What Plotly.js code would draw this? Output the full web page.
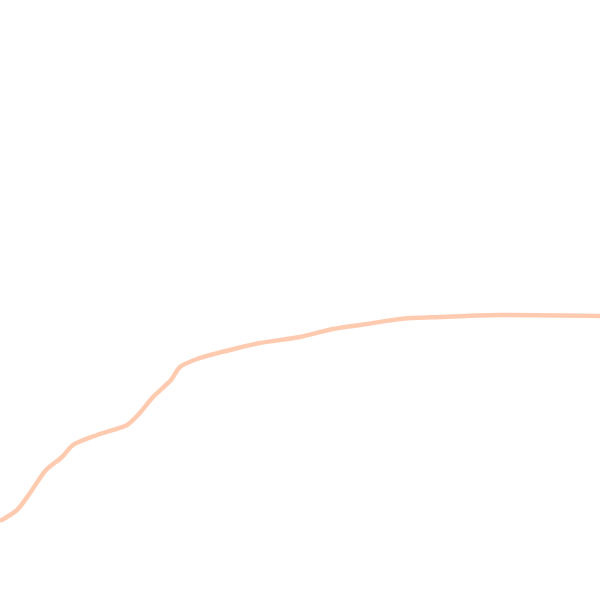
<!DOCTYPE html>
<html>
<head>
<meta charset="utf-8">
<script src="https://cdn.plot.ly/plotly-3.0.1.min.js"></script>
<style>
  html, body { margin: 0; padding: 0; background: #fff; }
  #chart { width: 600px; height: 600px; }
</style>
</head>
<body>
<div id="chart"></div>
<script>
// curve values (x, height above bottom)
const xs = [0, 17, 30, 46, 62, 73, 97, 127, 138, 153, 171, 180, 197, 230, 260, 300, 333, 367, 400, 440, 500, 600];
const ys = [79, 90, 107, 130, 143, 155, 165, 175, 185, 203, 220, 233, 241, 250, 257, 263, 271, 276, 281, 283, 285, 284];

const trace = {
  x: xs,
  y: ys,
  type: "scatter",
  mode: "lines",
  line: { color: "rgb(255,203,176)", width: 4.5, shape: "spline", smoothing: 0.8 },
  hoverinfo: "skip"
};

const layout = {
  width: 600,
  height: 600,
  margin: { l: 0, r: 0, t: 0, b: 0 },
  paper_bgcolor: "#fff",
  plot_bgcolor: "#fff",
  showlegend: false,
  xaxis: { range: [0, 600], visible: false, fixedrange: true },
  yaxis: { range: [0, 600], visible: false, fixedrange: true }
};

Plotly.newPlot("chart", [trace], layout, { displayModeBar: false, staticPlot: true });
</script>
</body>
</html>
